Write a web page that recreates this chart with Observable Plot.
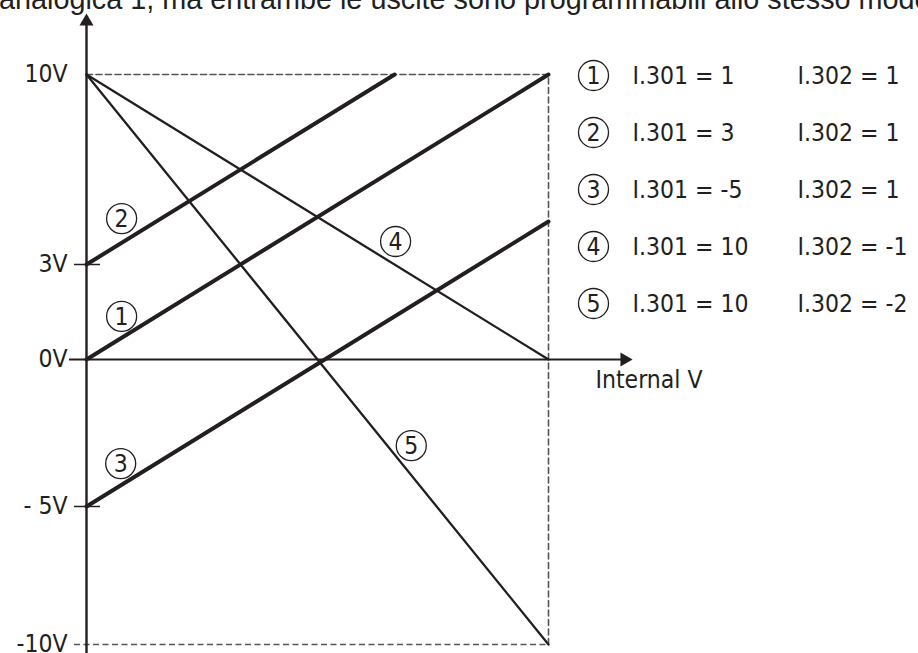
<!DOCTYPE html>
<html>
<head>
<meta charset="utf-8">
<script src="https://cdn.jsdelivr.net/npm/d3@7"></script>
<script src="https://cdn.jsdelivr.net/npm/@observablehq/plot@0.6"></script>
<style>
  html, body { margin: 0; padding: 0; background: #fff; }
  #wrap { position: relative; width: 918px; height: 653px; overflow: hidden; background: #fff; }
  #wrap svg { position: absolute; left: 0; top: 0; background: transparent; }
  #title { position: absolute; left: -1px; top: -16px; white-space: nowrap;
           font-family: "Liberation Sans", Arial, sans-serif; font-size: 28.8px; line-height: 30px; color: #231f20; }
</style>
</head>
<body>
<div id="wrap">
  <div id="title"></div>
</div>
<script>
// ---- data ----
const titleText = "analogica 1, ma entrambe le uscite sono programmabili allo stesso modo";
const seriesIds = ["1", "2", "3", "4", "5"];
const i301 = [1, 3, -5, 10, 10];
const i302 = [1, 1, 1, -1, -2];
const startX = [0, 0, 0, 0, 0];
const startY = [0, 3, -5, 10, 10];
const endX = [10, 6.67, 10, 10, 10];
const endY = [10, 10, 5, 0, -10];
const labelX = [0.76, 0.76, 0.74, 6.69, 7.03];
const labelY = [1.36, 5.1, -3.54, 4.07, -2.93];
const yTickValues = [10, 3, 0, -5, -10];
const yTickLabels = ["10V", "3V", "0V", "- 5V", "-10V"];
const markedTicks = [3, -5];
const xAxisLabel = "Internal V";
const frameX = [0, 10];
const frameY = [-10, 10];

// ---- derived tables ----
const segs = seriesIds.flatMap((id, i) => [
  {id, x: startX[i], y: startY[i]},
  {id, x: endX[i], y: endY[i]}
]);
const thick = new Set(seriesIds.filter((id, i) => i302[i] > 0));
const labels = seriesIds.map((id, i) => ({id, x: labelX[i], y: labelY[i]}));
const ticks = yTickValues.map((v, i) => ({v, t: yTickLabels[i]}));
const legend = seriesIds.map((id, i) => ({id, a: `I.301 = ${i301[i]}`, b: `I.302 = ${i302[i]}`}));
const framePath = [
  {x: frameX[0], y: frameY[1]},
  {x: frameX[1], y: frameY[1]},
  {x: frameX[1], y: frameY[0]}
];

// the diagram's vertical axis is drawn non-uniformly: a piecewise-linear warp of volts
const warp = d3.scaleLinear().domain([-10, -5, 0, 3, 5, 10]).range([0, 138, 285, 380, 423, 570]);

const ink = "#231f20";
const font = '"Liberation Sans Narrow", "DejaVu Sans Condensed", sans-serif';
const fs = "24.5px";

document.getElementById("title").textContent = titleText;

const main = Plot.plot({
  width: 918,
  height: 653,
  margin: 0,
  style: {fontFamily: font, fontSize: fs, color: ink, background: "transparent", overflow: "visible"},
  x: {domain: frameX, range: [86, 548], axis: null},
  y: {transform: warp, domain: [warp(frameY[0]), warp(frameY[1])], range: [644, 74], axis: null},
  marks: [
    // dashed frame
    Plot.line(framePath, {x: "x", y: "y", stroke: "#555", strokeWidth: 1.6, strokeDasharray: "6,3.5"}),
    Plot.ruleY([frameY[0]], {y: d => d, x1: () => frameX[0], x2: () => frameX[1], insetLeft: -12, stroke: "#555", strokeWidth: 1.6, strokeDasharray: "6,3.5"}),
    // axes
    Plot.ruleX([frameX[0]], {x: d => d, insetTop: 20, stroke: ink, strokeWidth: 2.4}),
    Plot.ruleY([0], {y: d => d, x1: () => frameX[0], x2: () => frameX[1], insetLeft: -17, insetRight: -78, stroke: ink, strokeWidth: 2.2}),
    Plot.dot([frameX[0]], {x: d => d, frameAnchor: "top", dy: 21, symbol: "triangle", r: 5.2, fill: ink, stroke: "none"}),
    Plot.dot([0], {y: d => d, x: () => frameX[1], dx: 76, symbol: "triangle", rotate: 90, r: 5.2, fill: ink, stroke: "none"}),
    // tick marks
    Plot.ruleY(markedTicks, {y: d => d, x1: () => frameX[0], x2: () => frameX[0], insetLeft: -12, insetRight: -14, stroke: ink, strokeWidth: 1.5}),
    // tick labels
    Plot.text(ticks, {x: () => frameX[0], y: "v", text: "t", dx: -19, textAnchor: "end", fill: ink}),
    Plot.text([xAxisLabel], {x: () => frameX[1], y: () => 0, text: d => d, dx: 47, dy: 21, textAnchor: "start", fill: ink}),
    // series
    Plot.line(segs.filter(d => !thick.has(d.id)), {x: "x", y: "y", z: "id", stroke: ink, strokeWidth: 2.3}),
    Plot.line(segs.filter(d => thick.has(d.id)), {x: "x", y: "y", z: "id", stroke: ink, strokeWidth: 4}),
    // circled labels
    Plot.dot(labels, {x: "x", y: "y", r: 15, stroke: ink, strokeWidth: 1.3, fill: "none"}),
    Plot.text(labels, {x: "x", y: "y", text: "id", fill: ink, dy: 1})
  ]
});

const leg = Plot.plot({
  width: 918,
  height: 653,
  margin: 0,
  style: {fontFamily: font, fontSize: fs, color: ink, background: "transparent", overflow: "visible"},
  y: {type: "point", domain: seriesIds, range: [75, 303], padding: 0, axis: null},
  marks: [
    Plot.dot(legend, {y: "id", frameAnchor: "left", dx: 593, r: 15, stroke: ink, strokeWidth: 1.3, fill: "none"}),
    Plot.text(legend, {y: "id", text: "id", frameAnchor: "left", dx: 593, dy: 1, textAnchor: "middle", fill: ink}),
    Plot.text(legend, {y: "id", text: "a", frameAnchor: "left", dx: 632, dy: 1, textAnchor: "start", fill: ink}),
    Plot.text(legend, {y: "id", text: "b", frameAnchor: "left", dx: 797, dy: 1, textAnchor: "start", fill: ink})
  ]
});

const wrap = document.getElementById("wrap");
wrap.appendChild(main);
wrap.appendChild(leg);
</script>
</body>
</html>
